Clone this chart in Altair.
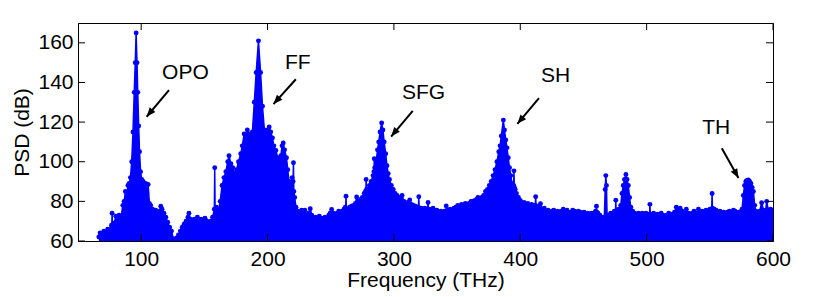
import math
import altair as alt
import pandas as pd

# ---- spectrum (upper envelope of the PSD trace) ----
freq = [
    66.5, 67.5, 69, 70.5, 72, 73.5, 75, 76.5, 76.7, 77, 77.3, 78.5, 80, 81, 82.5, 84,
    85.5, 86.5, 87.5, 88.5, 89.5, 90.5, 91.5, 92.5, 93.5, 94.5, 95.3, 96, 96.7, 97.3,
    98, 98.7, 99.5, 100.5, 101.5, 102.5, 103.5, 104.5, 105.5, 106.5, 107.5, 109, 110.5,
    111.5, 113, 114.5, 115.5, 116.5, 118, 119.5, 121, 122.5, 124, 125.5, 126.5, 128,
    129.5, 131, 132.5, 134, 135.5, 137, 137.8, 139, 140.5, 142, 143.5, 144.5, 146,
    147.5, 149, 150.5, 152, 153.5, 155, 156.5, 157.9, 158.2, 158.5, 159.5, 161, 162.5,
    164, 165.5, 167, 168.5, 169.5, 171, 172.5, 174, 175.5, 177, 178.8, 180, 181.5, 183,
    184, 185.5, 186.7, 188, 189.5, 191, 192.8, 194.5, 196, 197.5, 198.6, 200, 201.3,
    202.5, 203.9, 205, 206.6, 208, 209.2, 210.5, 211.5, 212.4, 213.5, 215, 216, 217,
    218.5, 219.5, 220.2, 220.5, 220.8, 221.5, 222.5, 224, 225.5, 227, 228.5, 229.5, 231,
    232.5, 233.8, 235, 236.5, 238, 239.5, 241, 242.5, 244, 245.5, 247, 248.5, 249.5,
    250.7, 252, 253.5, 255, 256.3, 257.5, 259, 260.5, 261.5, 261.8, 262.1, 262.4, 263.5,
    265, 266.5, 268, 269.5, 270.5, 272, 273.5, 275, 276.5, 277.5, 277.8, 278, 278.3,
    279.5, 280.6, 282, 283.5, 284.2, 284.5, 284.8, 286, 287, 288, 289, 290.3, 291.3,
    292.3, 293.5, 294.5, 295.5, 296.5, 298, 299.5, 301, 302.5, 304, 305.5, 306.5, 308,
    309.5, 311, 312.5, 314, 315.5, 317, 318.5, 319.4, 319.7, 320, 321.5, 323, 324.5,
    326, 326.7, 327, 327.3, 328.5, 330, 331, 332.5, 334, 335.5, 337, 338.5, 340, 341.1,
    341.4, 341.7, 343, 344.5, 346, 347.5, 349, 350.5, 352, 353.5, 355, 356.5, 358,
    359.5, 361, 362.5, 364, 365.5, 366.5, 368, 369.5, 371, 372.5, 374, 375.5, 377,
    378.5, 380, 381.5, 383, 384, 385, 386.6, 387.5, 388.5, 389.5, 390.5, 391.5, 392.5,
    393.5, 394.5, 394.7, 395, 395.3, 396, 397, 398.5, 400, 401.5, 403, 404.5, 406,
    407.5, 409, 410.5, 411.9, 412.2, 412.5, 414, 416, 417.5, 419, 420.5, 422, 423.5,
    425, 426.5, 428, 429.5, 431, 432.5, 434, 435.5, 437, 438.5, 440, 441.5, 443, 444.5,
    446, 447.5, 449, 450.5, 452, 453.5, 455, 456.5, 458, 459.5, 460.0, 460.3, 460.6,
    461.5, 463, 464.5, 465.3, 466.5, 467.2, 467.7, 468.2, 468.7, 470, 471.5, 473, 474.5,
    475.3, 475.6, 475.9, 476.5, 478, 479.5, 480.5, 481.5, 482.5, 483.6, 484.5, 485.5,
    486.5, 487.5, 489, 490.5, 492, 493.5, 495, 496.5, 498, 499.5, 501, 502.3, 502.6,
    502.9, 504, 505.5, 507, 508.5, 510, 511.5, 513, 514.5, 516, 517.5, 519, 520.5, 522,
    523.5, 525, 526.5, 528, 529.5, 531.4, 533, 534.5, 536, 537.5, 539, 541, 542.5, 544,
    545.5, 547, 548.5, 550, 551.5, 551.8, 552.1, 553.5, 555, 556.5, 558, 559.5, 561,
    562.5, 564, 565.5, 567, 568.7, 570, 571.5, 573, 574.5, 575.5, 576.5, 577.5, 578.5,
    579.3, 580.5, 581.5, 582.5, 583.5, 584.5, 585.5, 586.5, 588, 589.5, 591, 592.5, 594,
    595, 596.5, 598, 599.5, 600,
]
psd = [
    62, 64, 63, 65, 64, 66, 65, 68, 67, 74, 68, 69, 72.5, 70, 73, 72,
    78, 80, 85, 82, 88, 89, 92, 100, 115, 135, 150, 165, 150, 135,
    118, 105, 95, 91, 90, 87, 89, 84, 88.5, 79, 78, 76, 74,
    75.5, 73.5, 75, 77.5, 76, 74, 72, 69.5, 67, 65, 61, 60, 61.5,
    63, 65, 67, 68.5, 70, 72, 74, 71, 70, 71, 70, 72, 70.5,
    71, 70, 71.5, 70, 69, 70, 72, 76, 97, 76, 77, 75, 80,
    88, 92, 95, 100, 103, 99, 97, 94, 96, 100, 104, 108, 114, 112,
    116, 114, 112, 115, 130, 145, 161, 145, 128, 116, 114, 116, 117.5,
    115, 112, 108, 105.7, 102, 100.7, 103, 108, 109.5, 106, 102, 96, 90,
    88, 92, 90, 99.5, 85, 82, 77, 75, 73, 75.5, 74, 75.5, 73,
    74, 76.3, 73, 72, 72, 71, 72.5, 71, 71.5, 72, 71, 73, 74,
    75.9, 74, 73.5, 74, 75, 74, 75, 76, 77, 76, 82.6, 76, 76,
    77, 77.5, 78, 79, 82.2, 80, 81, 82, 84, 85, 85, 91, 86,
    86, 88, 90, 93, 95, 101.5, 97, 100, 106, 110, 115, 119.6, 116,
    110, 104, 98, 94, 91, 88, 86, 84, 83, 82, 80.5, 83, 80,
    79, 79.5, 80.7, 78.5, 78, 77.5, 77, 77, 82.3, 76.5, 76.5, 76, 76.5,
    76, 76, 79.4, 76, 76, 75.5, 76.5, 75, 75.5, 74.5, 75, 74.5, 75, 75,
    77.7, 75, 75.5, 76, 75.5, 76.5, 77, 78, 77, 78.5, 78, 79, 78.5,
    79, 80, 80, 80.5, 81, 82, 81, 82, 83, 85, 86, 88, 90,
    93, 96, 100, 105, 108, 113, 121, 116, 111, 107, 102, 97, 93,
    89, 88, 88, 95.4, 87, 86, 84, 82, 80.5, 79, 79.5, 78.5, 79,
    78, 78.5, 78, 78, 82.3, 77.5, 77.5, 78.8, 76, 76.5, 75, 75.5, 74.5,
    75, 75.5, 74, 75, 74.5, 75, 76, 75, 75.5, 74, 74.5, 75.5, 75, 74,
    75, 74.5, 74, 74.5, 73.5, 74, 73.5, 74, 73.5, 75, 74.5, 77.5, 74.5,
    74, 73, 72, 69, 72, 86, 93, 88, 73, 73, 74, 73.5, 75,
    75, 80.6, 75, 75, 76, 78, 84, 88, 91, 93.6, 91, 88,
    82, 77, 75, 74, 73.5, 74, 73, 74, 73.5, 74, 73.5, 73.5, 78.5,
    73.5, 73, 74, 73, 73.5, 73, 74, 73, 72.5, 73, 74, 73.5, 73, 74.5,
    77, 75.5, 76.5, 75, 74, 76, 74, 73.5, 74, 75, 74, 76, 74, 75,
    74, 75.5, 75, 76, 76, 84, 76.5, 76, 75.5, 74.5, 75, 74, 74.5,
    74, 74.5, 75, 74.5, 75.5, 75, 74, 74.5, 74, 76, 83, 88, 90,
    90.6, 90.8, 90, 89, 87, 85, 78, 75, 74, 75, 79.3, 75.5, 74.5,
    80, 75, 76, 75.5, 75,
]

x_ticks = [100, 200, 300, 400, 500, 600]
y_ticks = [60, 80, 100, 120, 140, 160]

labels = ["OPO", "FF", "SFG", "SH", "TH"]
label_f = [135, 224, 323.5, 428, 555]
label_v = [145, 150, 134.7, 143.5, 117]
arrow_f0 = [122, 222.4, 314.9, 414.8, 559.5]
arrow_v0 = [136.1, 141.6, 125.7, 132.1, 106.8]
arrow_f1 = [104.3, 204.7, 297.8, 397.7, 572.7]
arrow_v1 = [122.7, 129.1, 112.7, 119.1, 91.8]

W, H = 695, 218
XD = [50, 600]
YD = [60, 170]
BLUE = "#0000ff"
FONT = "Liberation Sans"
FS = 21
TICK = 7

spec = pd.DataFrame({"f": freq, "v": psd})

# arrowhead rotation (clockwise from "up"), from the arrow direction on screen
angles = []
for f0, v0, f1, v1 in zip(arrow_f0, arrow_v0, arrow_f1, arrow_v1):
    dx = (f1 - f0) * W / (XD[1] - XD[0])
    dy = -(v1 - v0) * H / (YD[1] - YD[0])
    angles.append(math.degrees(math.atan2(dx, -dy)) % 360)

ann = pd.DataFrame({"label": labels, "lf": label_f, "lv": label_v,
                    "f0": arrow_f0, "v0": arrow_v0, "f1": arrow_f1, "v1": arrow_v1,
                    "ang": angles})

xs = alt.Scale(domain=XD, nice=False, zero=False)
ys = alt.Scale(domain=YD, nice=False, zero=False)

xaxis = alt.Axis(values=x_ticks, ticks=False, tickSize=0, grid=False, domain=True,
                 domainColor="black", labelFontSize=FS, labelFont=FONT, labelColor="black",
                 labelPadding=7, labelFlush=False, title="Frequency (THz)", titleFont=FONT,
                 titleFontSize=FS, titleFontWeight="normal", titleColor="black",
                 titlePadding=0, zindex=1)
yaxis = alt.Axis(values=y_ticks, ticks=False, tickSize=0, grid=False, domain=True,
                 domainColor="black", labelFontSize=FS, labelFont=FONT, labelColor="black",
                 labelPadding=5, labelFlush=False, title="PSD (dB)", titleFont=FONT,
                 titleFontSize=FS, titleFontWeight="normal", titleColor="black",
                 titlePadding=5, zindex=1)

base = alt.Chart(spec)
area = base.mark_area(color=BLUE, opacity=1, clip=True, interpolate="linear").encode(
    x=alt.X("f:Q", scale=xs, axis=xaxis),
    y=alt.Y("v:Q", scale=ys, axis=yaxis),
    y2=alt.datum(60),
)
line = base.mark_line(color=BLUE, strokeWidth=1.5, clip=True).encode(
    x=alt.X("f:Q", scale=xs), y=alt.Y("v:Q", scale=ys))
pts = base.mark_point(color=BLUE, filled=True, opacity=1, shape="circle", size=24,
                      clip=True).encode(x=alt.X("f:Q", scale=xs), y=alt.Y("v:Q", scale=ys))

xt = pd.DataFrame({"t": x_ticks})
yt = pd.DataFrame({"t": y_ticks})
tick_b = alt.Chart(xt).mark_rule(color="black", strokeWidth=1).encode(
    x=alt.X("t:Q", scale=xs), y=alt.value(H), y2=alt.value(H - TICK))
tick_t = alt.Chart(xt).mark_rule(color="black", strokeWidth=1).encode(
    x=alt.X("t:Q", scale=xs), y=alt.value(0), y2=alt.value(TICK))
tick_l = alt.Chart(yt).mark_rule(color="black", strokeWidth=1).encode(
    y=alt.Y("t:Q", scale=ys), x=alt.value(0), x2=alt.value(TICK))
tick_r = alt.Chart(yt).mark_rule(color="black", strokeWidth=1).encode(
    y=alt.Y("t:Q", scale=ys), x=alt.value(W), x2=alt.value(W - TICK))

a = alt.Chart(ann)
shaft = a.mark_rule(color="black", strokeWidth=2).encode(
    x=alt.X("f0:Q", scale=xs), y=alt.Y("v0:Q", scale=ys),
    x2="f1:Q", y2="v1:Q")
head = a.mark_point(shape="M0,0L-0.4,1L0.4,1Z", filled=True, color="black", opacity=1,
                    size=340).encode(
    x=alt.X("f1:Q", scale=xs), y=alt.Y("v1:Q", scale=ys), angle=alt.Angle("ang:Q", scale=None))
txt = a.mark_text(font=FONT, fontSize=FS, color="black", align="center",
                  baseline="middle").encode(
    x=alt.X("lf:Q", scale=xs), y=alt.Y("lv:Q", scale=ys), text="label:N")

chart = alt.layer(area, line, pts, tick_b, tick_t, tick_l, tick_r, shaft, head, txt).properties(
    width=W, height=H,
    autosize=alt.AutoSizeParams(type="none"),
    padding={"left": 70, "top": 15, "right": 45, "bottom": 50},
    background="white",
).configure_view(stroke="black", strokeWidth=1)

chart.save("out.html", embed_options={"renderer": "svg", "actions": False})
